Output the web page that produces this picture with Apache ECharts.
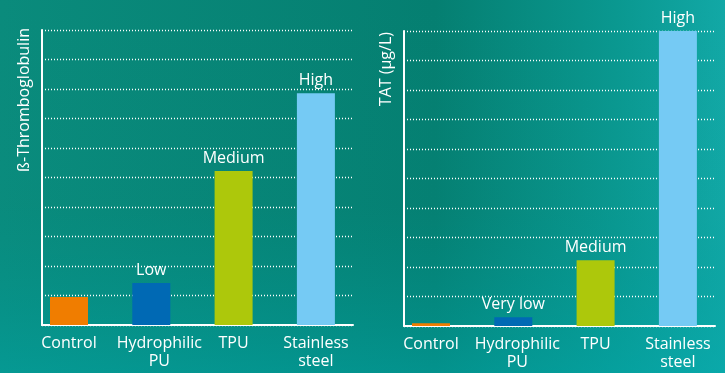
<!DOCTYPE html>
<html>
<head>
<meta charset="utf-8">
<script src="https://cdn.jsdelivr.net/npm/echarts@6/dist/echarts.min.js"></script>
<style>
  html, body { margin: 0; padding: 0; background: #06877a; }
  #chart { width: 725px; height: 373px; }
</style>
</head>
<body>
<div id="chart"></div>
<script>
// Categories shared by both panels
const categories = ['Control', 'Hydrophilic\nPU', 'TPU', 'Stainless\nsteel'];

// Left panel: ß-Thromboglobulin (relative units, 0–10 scale)
const betaTgValues = [0.95, 1.42, 5.22, 7.86];
const betaTgLabels = ['', 'Low', 'Medium', 'High'];

// Right panel: TAT (µg/L, relative units, 0–10 scale)
const tatValues = [0.09, 0.3, 2.23, 10];
const tatLabels = ['', 'Very low', 'Medium', 'High'];

// Value-axis ticks (dotted gridlines)
const yMin = 0;
const yMax = 10;
const yInterval = 1;

const barColors = ['#f07d00', '#0069b4', '#adc80b', '#75caf4'];
const FONT = '"Open Sans", "Noto Sans", sans-serif';

const chart = echarts.init(document.getElementById('chart'), null, { renderer: 'canvas' });

function frameAxes(gridIndex, title, gap) {
  return {
    x: {
      type: 'value', gridIndex, min: 0, max: 1,
      axisLine: { show: true, onZero: false, lineStyle: { color: '#ffffff', width: 2 } },
      axisTick: { show: false }, axisLabel: { show: false }, splitLine: { show: false }
    },
    y: {
      type: 'value', gridIndex, min: yMin, max: yMax, interval: yInterval,
      name: title, nameLocation: 'end', nameRotate: 90, nameGap: gap,
      nameTextStyle: {
        color: '#ffffff', fontFamily: FONT, fontSize: 16,
        align: 'right', verticalAlign: 'bottom', padding: [0, 0, 10, 0]
      },
      axisLine: { show: true, onZero: false, lineStyle: { color: '#ffffff', width: 2 } },
      axisTick: { show: false }, axisLabel: { show: false },
      splitLine: { show: true, lineStyle: { color: '#ffffff', width: 1.3, type: [1, 2] } }
    }
  };
}

// shift: horizontal nudge (px) of the two-line "Hydrophilic PU" label
function barAxes(gridIndex, shift) {
  return {
    x: {
      type: 'category', gridIndex, boundaryGap: true,
      data: categories.map((c, i) => (i === 1
        ? { value: c, textStyle: { padding: [0, 0, 0, shift] } }
        : c)),
      axisLine: { show: false }, axisTick: { show: false },
      axisLabel: {
        color: '#ffffff', fontFamily: FONT, fontSize: 16, lineHeight: 18,
        margin: 9, interval: 0
      }
    },
    y: { type: 'value', gridIndex, min: yMin, max: yMax, show: false, splitLine: { show: false } }
  };
}

function barSeries(values, labels, axisIndex) {
  return {
    type: 'bar', xAxisIndex: axisIndex, yAxisIndex: axisIndex,
    barWidth: 38,
    data: values.map((v, i) => ({
      value: v,
      itemStyle: { color: barColors[i] },
      label: { show: labels[i] !== '', formatter: labels[i] }
    })),
    label: {
      position: 'top', distance: 5, color: '#ffffff',
      fontFamily: FONT, fontSize: 16
    },
    silent: true
  };
}

const fL = frameAxes(0, 'ß-Thromboglobulin', 2);
const fR = frameAxes(1, 'TAT (µg/L)', -1);
const bL = barAxes(2, 16);
const bR = barAxes(3, 8);

chart.setOption({
  animation: false,
  backgroundColor: {
    type: 'linear', x: 0, y: 0, x2: 1, y2: 0,
    colorStops: [
      { offset: 0, color: '#0a8b7c' },
      { offset: 0.6, color: '#057f71' },
      { offset: 0.85, color: '#0a9890' },
      { offset: 1, color: '#12a8a6' }
    ]
  },
  graphic: [{
    type: 'rect', silent: true, z: -10,
    shape: { x: 0, y: 0, width: 725, height: 373 },
    style: {
      fill: {
        type: 'linear', x: 0, y: 0, x2: 0, y2: 1,
        colorStops: [
          { offset: 0, color: 'rgba(0,150,140,0)' },
          { offset: 0.55, color: 'rgba(0,150,150,0.05)' },
          { offset: 1, color: 'rgba(0,170,175,0.45)' }
        ]
      }
    }
  }],
  grid: [
    { left: 42, top: 30, width: 311, height: 295 },
    { left: 404, top: 31, width: 311, height: 295 },
    { left: 27.85, top: 30, width: 329.2, height: 295 },
    { left: 389.85, top: 31, width: 329.2, height: 295 }
  ],
  xAxis: [fL.x, fR.x, bL.x, bR.x],
  yAxis: [fL.y, fR.y, bL.y, bR.y],
  series: [
    barSeries(betaTgValues, betaTgLabels, 2),
    barSeries(tatValues, tatLabels, 3)
  ]
});
</script>
</body>
</html>
